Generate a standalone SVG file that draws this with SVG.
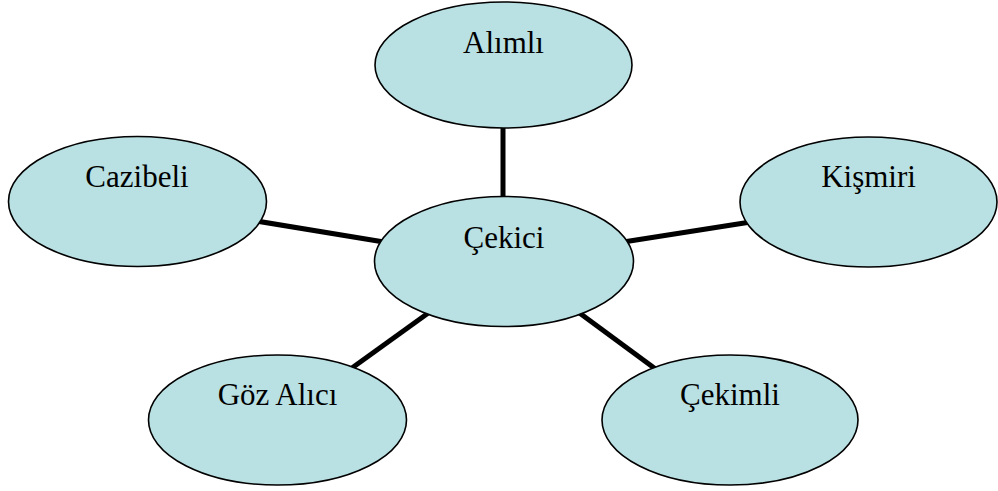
<svg xmlns="http://www.w3.org/2000/svg" width="998" height="491" viewBox="0 0 998 491">
<style>
.n ellipse{fill:#B9E0E3;stroke:#000;stroke-width:1.6}
.n text{font-family:"Liberation Serif","Times New Roman",serif;font-size:31px;fill:#000;text-anchor:middle}
.c line{stroke:#000;stroke-width:5}
</style>
<rect width="998" height="491" fill="#fff"/>
<g id="connectors" class="c">
<line x1="503" y1="120" x2="503" y2="205"/>
<line x1="250" y1="220" x2="390" y2="243"/>
<line x1="617" y1="243" x2="757" y2="221"/>
<line x1="345" y1="373" x2="438" y2="306"/>
<line x1="570" y1="306" x2="661" y2="373"/>
</g>
<g id="alimli" class="n"><ellipse cx="503.5" cy="65" rx="128.5" ry="63"/><text x="503.5" y="53">Alımlı</text></g>
<g id="cazibeli" class="n"><ellipse cx="137.5" cy="201.5" rx="129" ry="65"/><text x="137" y="187">Cazibeli</text></g>
<g id="cekici" class="n"><ellipse cx="504" cy="261.5" rx="129.5" ry="65"/><text x="504" y="248">Çekici</text></g>
<g id="kismiri" class="n"><ellipse cx="868.5" cy="202" rx="128.5" ry="65"/><text x="868.5" y="187">Kişmiri</text></g>
<g id="gozalici" class="n"><ellipse cx="277.5" cy="420" rx="129" ry="65"/><text x="277.5" y="405">Göz Alıcı</text></g>
<g id="cekimli" class="n"><ellipse cx="730" cy="420" rx="128" ry="65"/><text x="730" y="405">Çekimli</text></g>
</svg>
